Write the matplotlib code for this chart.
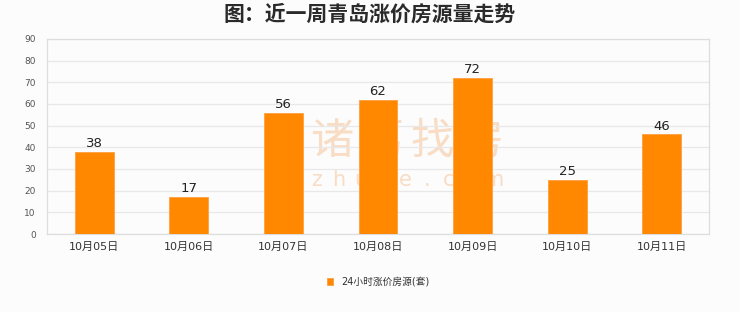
import numpy as np
import matplotlib.pyplot as plt

plt.rcParams['font.family'] = ['DejaVu Sans', 'Noto Sans CJK SC']

# Data
dates = ['10月05日', '10月06日', '10月07日', '10月08日', '10月09日', '10月10日', '10月11日']
counts = [38, 17, 56, 62, 72, 25, 46]
series_name = '24小时涨价房源(套)'
title = '图：近一周青岛涨价房源量走势'

bg = '#fcfcfc'
orange = '#ff8800'
W, H = 740, 312

fig = plt.figure(figsize=(7.4, 3.12), dpi=100, facecolor=bg)
ax = fig.add_axes([47 / W, 1 - 234 / H, 662 / W, 195 / H], facecolor=bg)

x = np.arange(len(dates))
ax.bar(x, counts, width=0.41, color=orange, edgecolor='#ffa040',
       linewidth=0.6, zorder=3, label=series_name)

for xi, v in zip(x, counts):
    ax.text(xi, v + 0.8, str(v), ha='center', va='bottom', fontsize=9.5,
            color='#222222', zorder=4)

ax.set_xlim(-0.5, len(dates) - 0.5)
ax.set_ylim(0, 90)
ax.set_yticks(np.arange(0, 91, 10))
ax.set_xticks(x)
ax.set_xticklabels(dates, fontsize=8, color='#333333')
ax.tick_params(axis='y', labelsize=6.5, colors='#555555', length=0, pad=8)
ax.tick_params(axis='x', length=0, pad=6)
ax.grid(axis='y', color='#e8e8e8', linewidth=0.9, zorder=0)
for s in ax.spines.values():
    s.set_color('#dddddd')
    s.set_linewidth(0.9)

# watermark (behind the bars)
wm = '#f8dcc4'
for i, ch in enumerate('诸葛找房'):
    ax.text((332 + 50 * i) / W, 1 - 142 / H, ch, transform=fig.transFigure,
            ha='center', va='center', fontsize=31, color=wm, zorder=1,
            family='Noto Sans CJK SC')
for i, ch in enumerate('zhuge.com'):
    ax.text((317 + 22 * i) / W, 1 - 180 / H, ch, transform=fig.transFigure,
            ha='center', va='center', fontsize=15, color=wm, zorder=1)

fig.text(370 / W, 1 - 14 / H, title, ha='center', va='center', fontsize=15,
         fontweight='bold', color='#2a2a2a', family=['Noto Sans CJK SC'])

# legend
leg = ax.legend(loc='center', bbox_to_anchor=(0.5, (234 - 282) / 195),
                frameon=False, fontsize=7, handlelength=0.7, handleheight=0.7,
                handletextpad=0.8)
for t in leg.get_texts():
    t.set_color('#333333')

fig.savefig('out.png', dpi=100, facecolor=bg)
